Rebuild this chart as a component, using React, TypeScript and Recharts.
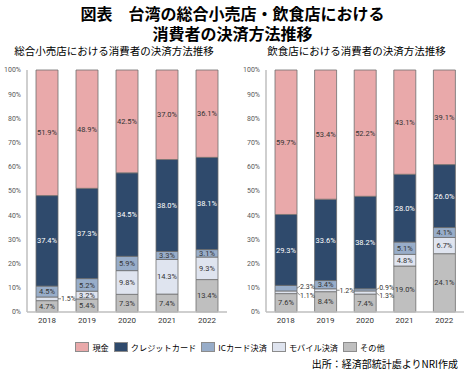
import { BarChart, Bar, XAxis, YAxis, LabelList } from 'recharts';

const years = ['2018', '2019', '2020', '2021', '2022'];

// 総合小売店
const retailCash = [51.9, 48.9, 42.5, 37.0, 36.1];
const retailCredit = [37.4, 37.3, 34.5, 38.0, 38.1];
const retailIc = [4.5, 5.2, 5.9, 3.3, 3.1];
const retailMobile = [1.5, 3.2, 9.8, 14.3, 9.3];
const retailOther = [4.7, 5.4, 7.3, 7.4, 13.4];

// 飲食店
const foodCash = [59.7, 53.4, 52.2, 43.1, 39.1];
const foodCredit = [29.3, 33.6, 38.2, 28.0, 26.0];
const foodIc = [2.3, 3.4, 0.9, 5.1, 4.1];
const foodMobile = [1.1, 1.2, 1.3, 4.8, 6.7];
const foodOther = [7.6, 8.4, 7.4, 19.0, 24.1];

const yTicks = [0, 10, 20, 30, 40, 50, 60, 70, 80, 90, 100];

const series = [
  { key: 'other', name: 'その他', color: '#bfbfbf', text: '#333' },
  { key: 'mobile', name: 'モバイル決済', color: '#dfe4ef', text: '#333' },
  { key: 'ic', name: 'ICカード決済', color: '#98adc9', text: '#333' },
  { key: 'credit', name: 'クレジットカード', color: '#2f4a6c', text: '#fff' },
  { key: 'cash', name: '現金', color: '#e9a9aa', text: '#333' },
];
const legendOrder = ['cash', 'credit', 'ic', 'mobile', 'other'];

const buildRows = (cash: number[], credit: number[], ic: number[], mobile: number[], other: number[]) =>
  years.map((y, i) => ({ year: y, cash: cash[i], credit: credit[i], ic: ic[i], mobile: mobile[i], other: other[i] }));

const retailData = buildRows(retailCash, retailCredit, retailIc, retailMobile, retailOther);
const foodData = buildRows(foodCash, foodCredit, foodIc, foodMobile, foodOther);

const SMALL = 3;
const numFont = "Roboto, 'DejaVu Sans', sans-serif";

const makeLabel = (key: string, color: string, rows: any[]) => (props: any) => {
  const { x, y, width, height, value, index } = props;
  if (value == null) return null;
  const cx = Number(x) + Number(width) / 2;
  const cy = Number(y) + Number(height) / 2;
  const txt = `${Number(value).toFixed(1)}%`;
  if (value >= SMALL) {
    return (
      <text x={cx} y={cy} dy="0.35em" textAnchor="middle" fontSize={7.5} fill={color} fontFamily={numFont}>
        {txt}
      </text>
    );
  }
  const row = rows[index];
  const both = row.ic < SMALL && row.mobile < SMALL;
  let dy = 0;
  if (both) dy = key === 'ic' ? -2 : 3;
  const x0 = Number(x) + Number(width);
  return (
    <g>
      <line x1={x0} y1={cy} x2={x0 + 3} y2={cy + dy} stroke="#595959" strokeWidth={0.7} />
      <text x={x0 + 3} y={cy + dy} dy="0.35em" fontSize={7} fill="#333" fontFamily={numFont}>
        {txt}
      </text>
    </g>
  );
};

const StackChart = ({ data, width, yWidth, right }: { data: any[]; width: number; yWidth: number; right: number }) => (
  <BarChart width={width} height={275} data={data} margin={{ top: 10, right, left: 2, bottom: 3 }} barSize={22}>
    <XAxis
      dataKey="year"
      tick={{ fontSize: 8, fill: '#333', fontFamily: numFont }}
      tickLine={false}
      tickSize={3}
      axisLine={{ stroke: '#bfbfbf', strokeWidth: 1.5 }}
      height={20}
    />
    <YAxis
      domain={[0, 100]}
      ticks={yTicks}
      tickFormatter={(v: number) => `${v}%`}
      tick={{ fontSize: 7, fill: '#595959', fontFamily: numFont }}
      tickLine={false}
      tickSize={4}
      axisLine={{ stroke: '#bfbfbf', strokeWidth: 1.5 }}
      width={yWidth}
      interval={0}
    />
    {series.map((s) => (
      <Bar key={s.key} dataKey={s.key} stackId="a" fill={s.color} stroke="#6e6e6e" strokeWidth={0.8} isAnimationActive={false}>
        <LabelList dataKey={s.key} content={makeLabel(s.key, s.text, data)} />
      </Bar>
    ))}
  </BarChart>
);

export default function App() {
  const jp = "'Noto Sans CJK JP', 'Noto Sans', sans-serif";
  const titleStyle = { position: 'absolute' as const, left: 0, width: 465, textAlign: 'center' as const, fontSize: 16, fontWeight: 700, lineHeight: '18px' };
  return (
    <div style={{ position: 'absolute', left: 0, top: 0, width: 465, height: 374, background: '#fff', fontFamily: jp, color: '#000' }}>
      <div style={{ ...titleStyle, top: 4 }}>図表　台湾の総合小売店・飲食店における</div>
      <div style={{ ...titleStyle, top: 24 }}>消費者の決済方法推移</div>
      <div style={{ position: 'absolute', left: 0, top: 44, width: 228, textAlign: 'center', fontSize: 10.5, lineHeight: '14px' }}>
        総合小売店における消費者の決済方法推移
      </div>
      <div style={{ position: 'absolute', left: 248, top: 44, width: 217, textAlign: 'center', fontSize: 10.5, lineHeight: '14px' }}>
        飲食店における消費者の決済方法推移
      </div>
      <div style={{ position: 'absolute', left: 0, top: 60 }}>
        <StackChart data={retailData} width={232} yWidth={25} right={5} />
      </div>
      <div style={{ position: 'absolute', left: 238, top: 60 }}>
        <StackChart data={foodData} width={227} yWidth={26} right={1} />
      </div>
      <div style={{ position: 'absolute', left: 0, top: 341, width: 465, display: 'flex', justifyContent: 'center', fontSize: 8.2, lineHeight: '12px' }}>
        {legendOrder.map((k) => {
          const s = series.find((x) => x.key === k)!;
          return (
            <div key={k} style={{ display: 'flex', alignItems: 'center', marginRight: 5 }}>
              <span style={{ display: 'inline-block', width: 12, height: 8, background: s.color, border: '1px solid #8c8c8c', marginRight: 3 }} />
              <span>{s.name}</span>
            </div>
          );
        })}
      </div>
      <div style={{ position: 'absolute', right: 7, top: 357, fontSize: 10, lineHeight: '14px' }}>
        出所：経済部統計處よりNRI作成
      </div>
    </div>
  );
}
